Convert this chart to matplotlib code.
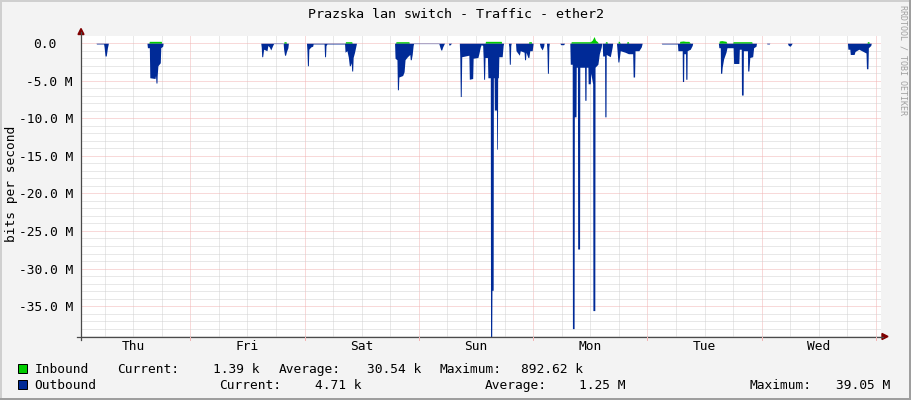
import matplotlib
matplotlib.use('Agg')
import matplotlib.pyplot as plt
import matplotlib.transforms as mtrans
from matplotlib.lines import Line2D
from matplotlib.patches import Polygon, Rectangle

W, H = 911, 400
MONO = 'DejaVu Sans Mono'
FS = 9.3

# time in hours since Thursday 00:00, traffic in Mbit/s
in_t = [1.05,
        15.3, 15.4, 17.9, 18.0,
        43.6, 43.7, 44.1, 44.2,
        56.5, 56.6, 57.9, 58.0,
        67.1, 67.2, 69.9, 70.0,
        85.9, 86.0, 89.3, 89.4,
        95.0, 95.1, 95.6, 95.7,
        103.9, 104.0, 108.0, 108.4, 108.8, 109.1, 109.5, 109.7,
        111.1, 111.2, 111.5, 111.6,
        113.8, 113.9, 114.1, 114.3,
        115.6, 115.7, 116.0, 116.1,
        126.7, 126.8, 127.5, 128.0, 128.7, 129.0,
        135.0, 135.1, 135.6, 136.5, 136.7,
        137.9, 138.0, 141.9, 142.0,
        166.1, 166.2, 166.5, 166.6,
        169.05]
in_v = [0,
        0, 0.25, 0.25, 0,
        0, 0.2, 0.2, 0,
        0, 0.2, 0.2, 0,
        0, 0.2, 0.2, 0,
        0, 0.25, 0.25, 0,
        0, 0.2, 0.2, 0,
        0, 0.2, 0.2, 0.4, 0.89, 0.4, 0.2, 0,
        0, 0.2, 0.2, 0,
        0, 0.3, 0.2, 0,
        0, 0.2, 0.2, 0,
        0, 0.25, 0.3, 0.25, 0.25, 0,
        0, 0.3, 0.35, 0.25, 0,
        0, 0.2, 0.2, 0,
        0, 0.2, 0.2, 0,
        0]

out_t = [1.05,
         4.2, 4.3, 5.8, 5.9, 6.1, 6.35, 6.6, 6.8,
         14.9, 15.0, 15.4, 15.5, 16.6, 16.7, 16.8, 17.0, 17.05, 17.2, 17.7, 17.8, 18.2, 18.3,
         38.8, 38.9, 39.0, 39.2, 39.4, 40.1, 40.3, 40.6, 40.9, 41.3, 41.5, 43.4,
         43.5, 43.6, 43.8, 44.0, 44.2, 44.5, 44.6,
         48.4, 48.5, 48.6, 48.8, 48.9, 49.3, 49.7, 49.8,
         52.1, 52.2, 52.4, 52.5, 52.7, 56.4,
         56.5, 56.9, 57.2, 57.4, 57.6, 57.8, 57.9, 58.1, 58.2, 58.5, 58.8, 58.9,
         66.9, 67.0, 67.4, 67.5, 67.7, 67.8, 68.6, 68.9, 69.1, 69.6, 70.1, 70.2, 70.4, 70.6, 70.8, 70.9, 76.2,
         76.4, 76.6, 76.8, 77.0, 77.3, 77.4, 78.2, 78.4, 78.7, 78.9,
         80.5, 80.6, 80.7, 80.9, 81.0, 82.5, 82.6, 83.3, 83.4, 84.4, 84.6, 84.9, 85.1,
         85.4, 85.5, 85.6, 85.8, 85.9, 86.4, 86.5, 87.0, 87.05, 87.3, 87.35, 87.6, 87.65,
         87.8, 87.85, 88.3, 88.35, 88.5, 88.55, 88.7, 88.8, 89.5, 89.7, 89.8,
         90.8, 90.9, 91.0, 91.2, 91.3, 91.4,
         92.3, 92.4, 93.1, 93.3, 94.1, 94.2, 94.4, 94.5, 94.9, 95.1, 95.3, 95.8, 96.0,
         97.3, 97.5, 97.9, 98.2, 98.3,
         98.8, 98.9, 99.0, 99.2, 99.3, 99.4,
         101.6, 101.8, 102.4, 102.6,
         103.7, 103.8, 104.2, 104.25, 104.6, 104.65, 105.0, 105.05, 105.3, 105.35, 105.75, 105.8,
         106.8, 106.85, 107.1, 107.15, 107.5, 107.55, 108.0, 108.1, 108.5, 108.55, 108.95, 109.0,
         109.6, 109.9, 110.3, 110.4,
         110.5, 110.6, 111.0, 111.05, 111.3, 111.35, 112.2, 112.6, 112.7,
         113.5, 113.6, 113.8, 114.0, 114.3, 115.3, 116.0, 116.9, 117.0, 117.3, 117.4, 118.2, 118.7, 118.9,
         122.9, 123.0, 126.3, 126.4, 127.3, 127.35, 127.6, 127.65, 128.0, 128.05, 128.3, 128.35, 129.0, 129.4, 129.5,
         134.9, 135.0, 135.3, 135.35, 135.6, 135.7, 136.0, 136.5, 136.7, 138.0, 138.1, 139.2,
         139.3, 139.7, 139.75, 140.1, 140.15, 141.0, 141.05, 141.3, 141.5, 142.1, 142.3, 142.8, 142.9,
         145.0, 145.1, 145.6, 145.7, 149.4, 149.6, 150.0, 150.3, 150.4,
         162.0, 162.1, 162.5, 162.6, 163.4, 163.6, 164.4, 165.3, 165.9, 166.0, 166.3, 166.4, 166.9, 167.0,
         169.05]
out_v = [0,
         0, -0.1, -0.1, -0.5, -1.7, -1.7, -0.6, 0,
         0, -0.6, -0.6, -4.6, -4.7, -4.3, -5.3, -5.3, -4.3, -3.0, -2.6, -0.6, -0.4, 0,
         0, -0.5, -1.8, -1.8, -0.8, -1.0, -0.3, -0.5, -0.9, -0.3, -0.05, -0.05,
         0, -0.8, -1.6, -1.6, -1.1, -0.6, 0,
         0, -1.0, -3.0, -3.0, -0.8, -0.5, -0.4, -0.1,
         -0.1, -1.8, -1.8, -0.3, -0.1, -0.1,
         -1.2, -1.0, -1.9, -3.0, -3.0, -2.6, -3.7, -3.7, -1.9, -1.2, -0.3, 0,
         0, -2.0, -2.2, -6.2, -6.2, -4.5, -4.3, -3.8, -2.2, -1.8, -1.5, -2.2, -2.2, -1.5, -0.3, -0.05, -0.05,
         -0.5, -0.9, -0.9, -0.5, -0.1, 0, 0, -0.3, -0.1, 0,
         0, -2.0, -7.1, -7.1, -1.8, -1.6, -4.8, -4.7, -2.0, -1.9, -1.4, -0.5, -0.2,
         -0.3, -1.9, -4.8, -4.8, -1.9, -1.9, -4.6, -4.6, -39.05, -39.05, -32.9, -32.9, -4.6,
         -4.6, -8.9, -8.9, -14.1, -14.1, -4.6, -4.6, -1.8, -1.8, -0.3, 0,
         0, -0.5, -2.8, -2.8, -0.3, 0,
         0, -1.0, -1.6, -1.0, -1.2, -2.2, -2.2, -1.2, -1.9, -1.9, -1.0, -1.0, 0,
         0, -0.5, -0.9, -0.4, 0,
         0, -1.0, -4.0, -4.0, -0.5, 0,
         0, -0.2, -0.2, 0,
         0, -2.8, -2.8, -38.0, -38.0, -9.8, -9.8, -3.2, -3.2, -27.4, -27.4, -3.2,
         -3.2, -7.6, -7.6, -3.2, -3.2, -5.4, -5.4, -4.0, -5.4, -35.6, -35.6, -3.2,
         -2.8, -1.4, -0.5, 0,
         0, -1.7, -1.7, -9.8, -9.8, -1.5, -1.8, -0.5, 0,
         0, -0.8, -2.5, -2.5, -1.0, -1.2, -1.4, -1.4, -4.5, -4.5, -1.0, -1.0, -0.5, 0,
         0, -0.1, -0.1, -1.0, -1.0, -5.1, -5.1, -1.4, -1.4, -4.8, -4.8, -1.0, -0.8, -0.3, 0,
         0, -0.6, -0.6, -4.0, -4.0, -3.2, -2.1, -1.2, -0.6, -0.6, -2.7, -2.7,
         -0.8, -0.8, -6.9, -6.9, -1.0, -1.0, -3.7, -3.7, -1.9, -1.8, -0.6, -0.4, 0,
         0, -0.1, -0.1, 0, 0, -0.3, -0.4, -0.1, 0,
         0, -0.8, -0.8, -1.5, -1.5, -1.1, -0.8, -1.1, -1.3, -3.4, -3.4, -0.6, -0.3, 0,
         0]

day_names = ['Thu', 'Fri', 'Sat', 'Sun', 'Mon', 'Tue', 'Wed']
y_ticks = [0, -5, -10, -15, -20, -25, -30, -35]
y_labels = ['0.0', '-5.0 M', '-10.0 M', '-15.0 M', '-20.0 M', '-25.0 M',
            '-30.0 M', '-35.0 M']

title = 'Prazska lan switch - Traffic - ether2'
in_stats = ['1.39 k', '30.54 k', '892.62 k']
out_stats = ['4.71 k', '1.25 M', '39.05 M']

BACK = '#f3f3f3'
GREEN = '#00cc00'
BLUE = '#002a97'
GRID = '#d2d2d2'
MGRID = '#f2b4b4'
AXIS = '#4a4a4a'
ARROW = '#7f0000'


def fx(x):
    return x / W


def fy(y):
    return 1 - y / H


fig = plt.figure(figsize=(W / 100, H / 100), dpi=100, facecolor=BACK)
ax = fig.add_axes([fx(81), fy(336.5), 800 / W, 300.8 / H])
ax.set_facecolor('white')
ax.set_xlim(1.05, 169.05)
ax.set_ylim(-39.05, 1.0)
for s in ax.spines.values():
    s.set_visible(False)
ax.set_xticks([])
ax.set_yticks([])

dots = (0, (1, 1))
for h in range(6, 169, 6):
    c = MGRID if h % 24 == 0 else GRID
    ax.axvline(h, color=c, lw=0.72, ls=dots, zorder=0)
for m in range(0, -40, -1):
    c = MGRID if m % 5 == 0 else GRID
    ax.axhline(m, color=c, lw=0.72, ls=dots, zorder=0)

ax.fill_between(in_t, in_v, 0, color=GREEN, lw=0, zorder=2)
ax.fill_between(out_t, out_v, 0, color=BLUE, lw=0, zorder=3)

# axes with arrows
fig.add_artist(Line2D([fx(77), fx(883)], [fy(336.5), fy(336.5)],
                      color=AXIS, lw=0.9))
fig.add_artist(Line2D([fx(81), fx(81)], [fy(340), fy(32)],
                      color=AXIS, lw=0.9))
fig.add_artist(Polygon([(fx(882), fy(333.5)), (fx(882), fy(339.5)),
                        (fx(888), fy(336.5))], closed=True, color=ARROW))
fig.add_artist(Polygon([(fx(78), fy(34.5)), (fx(84), fy(34.5)),
                        (fx(81), fy(28.5))], closed=True, color=ARROW))

tx = mtrans.blended_transform_factory(ax.transData, fig.transFigure)
for h in range(24, 169, 24):
    fig.add_artist(Line2D([h, h], [fy(336.5), fy(339.5)], color=MGRID,
                          lw=0.72, transform=tx))

for i, d in enumerate(day_names):
    ax.text(12 + 24 * i, fy(346.5), d, transform=tx, ha='center',
            va='center', fontsize=FS, family=MONO)

ty = mtrans.blended_transform_factory(fig.transFigure, ax.transData)
for v, lab in zip(y_ticks, y_labels):
    xr = 73 if lab.endswith('M') else 56.5
    ax.text(fx(xr), v, lab, transform=ty, ha='right', va='center_baseline',
            fontsize=FS, family=MONO)

fig.text(fx(455.5), fy(14), title, ha='center', va='center',
         fontsize=9.6, family=MONO)
fig.text(fx(12), fy(184), 'bits per second', rotation=90, ha='center',
         va='center', fontsize=FS, family=MONO)
fig.text(fx(903), fy(60), 'RRDTOOL / TOBI OETIKER', rotation=270,
         ha='center', va='center', fontsize=6, family=MONO, color='#a0a0a0')

# legend
for yb, col in [(363.5, GREEN), (379.5, BLUE)]:
    fig.add_artist(Rectangle((fx(17.5), fy(yb + 9)), 9 / W, 9 / H,
                             facecolor=col, edgecolor='black', lw=0.72))

row1 = [(34.3, 'Inbound'), (116.7, 'Current:'), (212.7, in_stats[0]),
        (278.7, 'Average:'), (366.7, in_stats[1]), (440, 'Maximum:'),
        (520.7, in_stats[2])]
row2 = [(34.3, 'Outbound'), (219.3, 'Current:'), (315.3, out_stats[0]),
        (485, 'Average:'), (579.3, out_stats[1]), (749.3, 'Maximum:'),
        (836, out_stats[2])]
for yc, row in [(368, row1), (384, row2)]:
    for x, s in row:
        fig.text(fx(x), fy(yc), s, ha='left', va='center_baseline',
                 fontsize=FS, family=MONO)

# frame shading
fig.add_artist(Rectangle((0, fy(2)), 1, 2 / H, color='#cfcfcf', lw=0))
fig.add_artist(Rectangle((0, 0), 2 / W, 1, color='#cfcfcf', lw=0))
fig.add_artist(Rectangle((0, 0), 1, 2 / H, color='#9e9e9e', lw=0))
fig.add_artist(Rectangle((fx(909), 0), 2 / W, 1, color='#9e9e9e', lw=0))

fig.savefig('out.png', dpi=100, facecolor=BACK)
